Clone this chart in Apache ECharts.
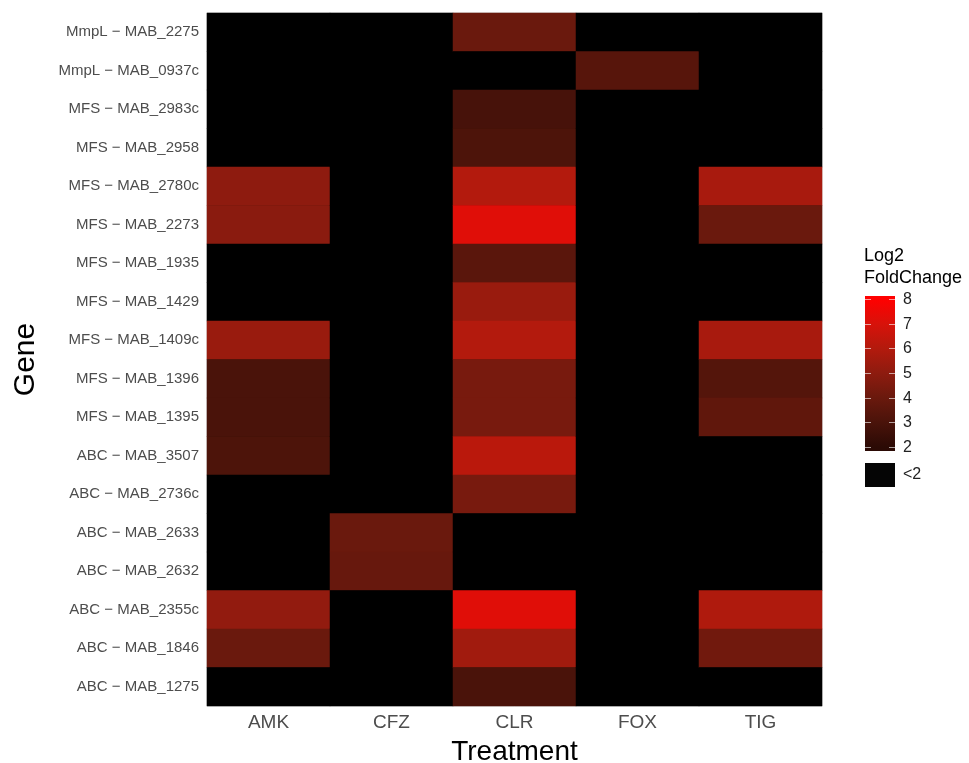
<!DOCTYPE html>
<html>
<head>
<meta charset="utf-8">
<script src="https://cdn.jsdelivr.net/npm/echarts@6/dist/echarts.min.js"></script>
<style>html,body{margin:0;padding:0;background:#fff;}#c{width:969px;height:763px;}</style>
</head>
<body>
<div id="c"></div>
<script>
// Genes, listed top to bottom
var genes = [
  'MmpL − MAB_2275', 'MmpL − MAB_0937c', 'MFS − MAB_2983c', 'MFS − MAB_2958',
  'MFS − MAB_2780c', 'MFS − MAB_2273', 'MFS − MAB_1935', 'MFS − MAB_1429',
  'MFS − MAB_1409c', 'MFS − MAB_1396', 'MFS − MAB_1395', 'ABC − MAB_3507',
  'ABC − MAB_2736c', 'ABC − MAB_2633', 'ABC − MAB_2632', 'ABC − MAB_2355c',
  'ABC − MAB_1846', 'ABC − MAB_1275'
];
var treatments = ['AMK', 'CFZ', 'CLR', 'FOX', 'TIG'];
// Log2 fold change per treatment (0 = "<2")
var AMK = [0, 0, 0, 0, 5.0, 4.9, 0, 0, 5.3, 3.0, 3.0, 3.1, 0, 0, 0, 5.1, 4.0, 0];
var CFZ = [0, 0, 0, 0, 0, 0, 0, 0, 0, 0, 0, 0, 0, 4.0, 3.9, 0, 0, 0];
var CLR = [4.0, 0, 2.9, 3.1, 6.0, 7.2, 3.5, 5.3, 6.0, 4.4, 4.4, 6.2, 4.4, 0, 0, 7.2, 5.5, 3.0];
var FOX = [0, 3.4, 0, 0, 0, 0, 0, 0, 0, 0, 0, 0, 0, 0, 0, 0, 0, 0];
var TIG = [0, 0, 0, 0, 5.7, 4.0, 0, 0, 5.7, 3.3, 3.7, 0, 0, 0, 0, 5.9, 4.2, 0];
var legendTicks = [2, 3, 4, 5, 6, 7, 8];

var cols = [AMK, CFZ, CLR, FOX, TIG];
var data = [];
cols.forEach(function (arr, xi) {
  arr.forEach(function (v, yi) { data.push([xi, yi, v]); });
});

// colours at values 2..8
var colorStops = ['#2b0a05', '#4a130a', '#6a190d', '#8e1b0f', '#b31a0d', '#d8120a', '#ff0000'];
// full scale 0..8: values below 2 are black
var scaleColors = ['#000000', '#000000'].concat(colorStops);

var FONT = '"Liberation Sans", Arial, sans-serif';
// legend bar geometry
var barX = 865, barW = 30, yTop = 296, yBot = 451;
var y8 = 299, y2 = 447;
function vy(v) { return y2 - (v - 2) * (y2 - y8) / 6; }
var gStops = [{ offset: 0, color: '#ff0000' }];
legendTicks.slice().reverse().forEach(function (v) {
  gStops.push({ offset: (vy(v) - yTop) / (yBot - yTop), color: colorStops[legendTicks.indexOf(v)] });
});
gStops.push({ offset: 1, color: '#2b0a05' });

var graphics = [
  { type: 'text', left: 864, top: 245, style: { text: 'Log2\nFoldChange', font: '18px ' + FONT, fill: '#000', lineHeight: 22 } },
  { type: 'rect', shape: { x: barX, y: yTop, width: barW, height: yBot - yTop },
    style: { fill: { type: 'linear', x: 0, y: 0, x2: 0, y2: 1, colorStops: gStops } } },
  { type: 'rect', shape: { x: barX, y: 463, width: barW, height: 24 }, style: { fill: '#050505' } },
  { type: 'text', left: 903, top: 467, style: { text: '<2', font: '16px ' + FONT, fill: '#222' } }
];
legendTicks.forEach(function (v) {
  var y = Math.round(vy(v)) + 0.5;
  graphics.push({ type: 'line', shape: { x1: barX, y1: y, x2: barX + 6, y2: y }, style: { stroke: 'rgba(255,255,255,0.6)', lineWidth: 1 } });
  graphics.push({ type: 'line', shape: { x1: barX + barW - 6, y1: y, x2: barX + barW, y2: y }, style: { stroke: 'rgba(255,255,255,0.6)', lineWidth: 1 } });
  graphics.push({ type: 'text', left: 903, top: y - 8, style: { text: String(v), font: '16px ' + FONT, fill: '#222' } });
});

var chart = echarts.init(document.getElementById('c'), null, { renderer: 'canvas' });
chart.setOption({
  backgroundColor: '#ffffff',
  animation: false,
  grid: { left: 207, right: 147, top: 13, bottom: 57, outerBoundsMode: 'none', containLabel: false,
    show: true, borderColor: '#cccccc', borderWidth: 1, backgroundColor: '#000' },
  xAxis: {
    type: 'category', data: treatments,
    axisLine: { show: false }, axisTick: { show: false }, splitLine: { show: false },
    axisLabel: { color: '#4d4d4d', fontSize: 19, fontFamily: FONT, margin: 7 },
    name: 'Treatment', nameLocation: 'middle', nameGap: 32,
    nameTextStyle: { color: '#000', fontSize: 28, fontFamily: FONT }
  },
  yAxis: {
    type: 'category', data: genes, inverse: true,
    axisLine: { show: false }, axisTick: { show: false }, splitLine: { show: false },
    axisLabel: { color: '#4d4d4d', fontSize: 15, fontFamily: FONT, margin: 8 },
    name: 'Gene', nameLocation: 'middle', nameGap: 166, nameRotate: 90,
    nameTextStyle: { color: '#000', fontSize: 30, fontFamily: FONT }
  },
  visualMap: {
    show: false, type: 'continuous', min: 0, max: 8, dimension: 2,
    inRange: { color: scaleColors }
  },
  graphic: graphics,
  series: [{
    type: 'heatmap', data: data,
    itemStyle: { borderWidth: 0 },
    emphasis: { disabled: true }
  }]
});
</script>
</body>
</html>
